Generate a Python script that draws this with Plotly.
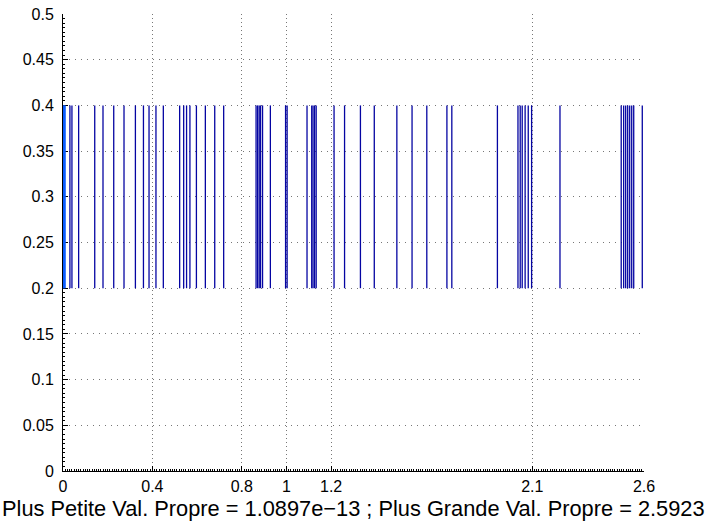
import plotly.graph_objects as go

# Eigenvalues (spectrum) drawn as vertical bars between y = 0.2 and y = 0.4
kernel_vals = [1.0897e-13, 0.004, 0.008]
eig_vals = [
    0.031, 0.040, 0.070, 0.142, 0.179, 0.227, 0.273, 0.324, 0.360, 0.385,
    0.416, 0.449, 0.522, 0.540, 0.553, 0.568, 0.597, 0.637, 0.679, 0.719,
    0.864, 0.871, 0.878, 0.884, 0.893, 0.928, 0.996, 1.003, 1.092, 1.113,
    1.119, 1.126, 1.133, 1.213, 1.260, 1.331, 1.393, 1.494, 1.562, 1.628,
    1.718, 1.740, 1.944, 2.036, 2.046, 2.055, 2.068, 2.082, 2.097, 2.224,
    2.498, 2.509, 2.518, 2.527, 2.536, 2.545, 2.554, 2.5923,
]
bar_low, bar_high = 0.2, 0.4

x_ticks = [0, 0.4, 0.8, 1, 1.2, 2.1, 2.6]
x_tick_text = ["0", "0.4", "0.8", "1", "1.2", "2.1", "2.6"]
y_ticks = [0, 0.05, 0.1, 0.15, 0.2, 0.25, 0.3, 0.35, 0.4, 0.45, 0.5]
y_tick_text = ["0", "0.05", "0.1", "0.15", "0.2", "0.25", "0.3", "0.35", "0.4", "0.45", "0.5"]

x_label = "Plus Petite Val. Propre = 1.0897e\u221213 ; Plus Grande Val. Propre = 2.5923"


def segments(vals):
    xs, ys = [], []
    for v in vals:
        xs += [v, v, None]
        ys += [bar_low, bar_high, None]
    return xs, ys


fig = go.Figure()
kx, ky = segments(kernel_vals)
fig.add_trace(go.Scatter(x=kx, y=ky, mode="lines",
                         line=dict(color="#0a5cff", width=2),
                         hoverinfo="skip", showlegend=False))
ex, ey = segments(eig_vals)
fig.add_trace(go.Scatter(x=ex, y=ey, mode="lines",
                         line=dict(color="#0505a2", width=1.3),
                         hoverinfo="skip", showlegend=False))

font_name = "Liberation Sans, Arial, Helvetica, sans-serif"

fig.update_layout(
    width=706, height=522,
    margin=dict(l=63, r=62, t=14, b=51, pad=0, autoexpand=False),
    paper_bgcolor="white", plot_bgcolor="white",
    font=dict(family=font_name, color="black", size=16),
    showlegend=False,
    xaxis=dict(
        range=[0, 2.6], tickmode="array", tickvals=x_ticks, ticktext=x_tick_text,
        showline=True, linecolor="black", linewidth=1, mirror=False,
        ticks="inside", ticklen=5, tickcolor="black", tickwidth=1,
        showgrid=True, gridcolor="#777777", gridwidth=1, griddash="1px,3px",
        zeroline=False, tickfont=dict(size=16), ticklabelstandoff=1,
        minor=dict(tickmode="linear", tick0=0, dtick=0.01, ticks="inside",
                   ticklen=2, tickcolor="black", showgrid=False),
        layer="below traces", automargin=False,
    ),
    yaxis=dict(
        range=[0, 0.5], tickmode="array", tickvals=y_ticks, ticktext=y_tick_text,
        showline=True, linecolor="black", linewidth=1, mirror=False,
        ticks="inside", ticklen=5, tickcolor="black", tickwidth=1,
        showgrid=True, gridcolor="#777777", gridwidth=1, griddash="1px,5px",
        zeroline=False, tickfont=dict(size=16), ticklabelstandoff=5,
        minor=dict(tickmode="linear", tick0=0, dtick=0.005, ticks="inside",
                   ticklen=2, tickcolor="black", showgrid=False),
        layer="below traces", automargin=False,
    ),
    annotations=[dict(
        text=x_label, xref="paper", yref="paper", x=0.5, y=0,
        xanchor="center", yanchor="top", yshift=-23, showarrow=False,
        font=dict(size=21.8, family=font_name, color="black"),
    )],
)

fig.write_html("out.html")
